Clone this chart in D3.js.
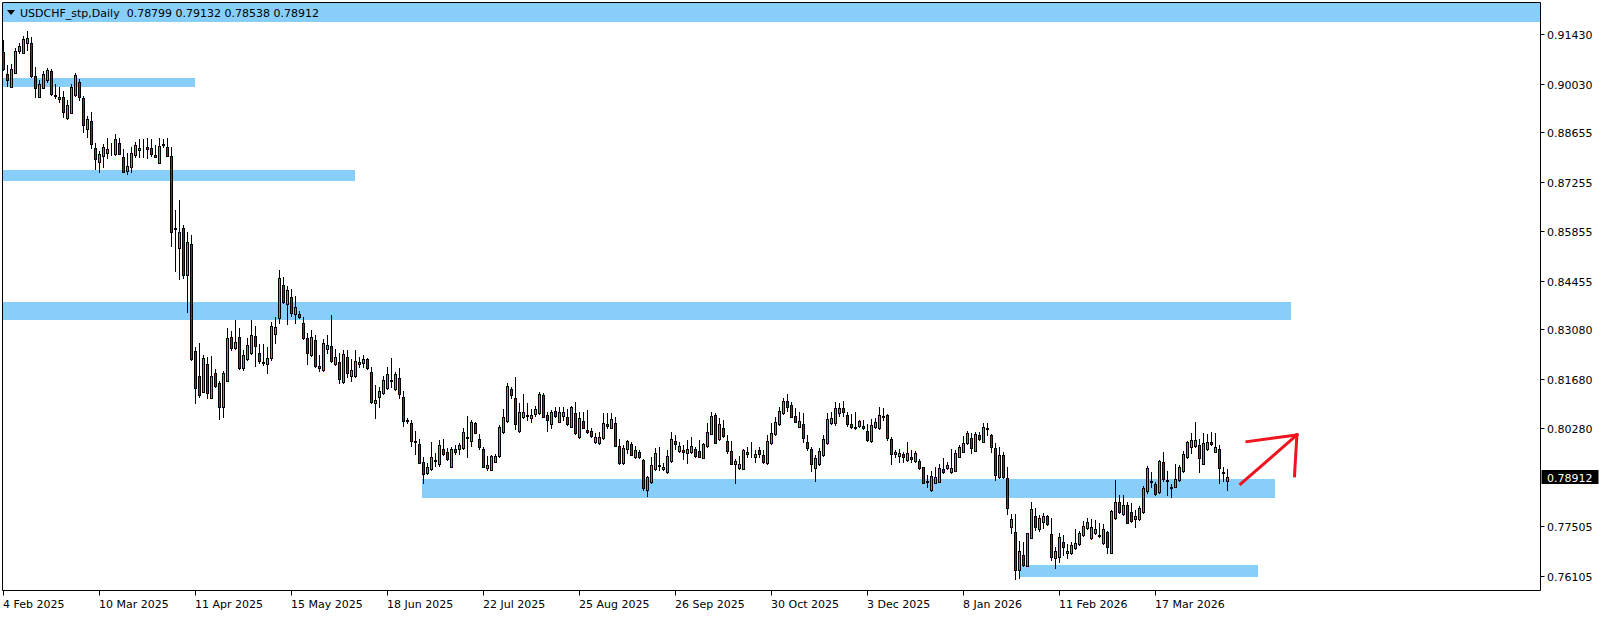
<!DOCTYPE html>
<html>
<head>
<meta charset="utf-8">
<script src="https://cdnjs.cloudflare.com/ajax/libs/d3/7.8.5/d3.min.js"></script>
<style>
  body { margin: 0; background: #fff; }
  svg { display: block; }
  text { font-family: "DejaVu Sans", Tahoma, Verdana, sans-serif; font-size: 11px; }
</style>
</head>
<body>
<svg id="chart" width="1604" height="617"></svg>
<script>
const symbolTitle = 'USDCHF_stp,Daily';

// daily bars, 4 Feb 2025 -> early Apr 2026
const opens = [
  0.9092, 0.9030, 0.8993, 0.9033, 0.9095, 0.9089, 0.9118, 0.9118, 0.9024, 0.8965,
  0.8990, 0.9013, 0.9038, 0.8970, 0.8959, 0.8965, 0.8905, 0.8920, 0.8970, 0.9007,
  0.8962, 0.8874, 0.8897, 0.8821, 0.8781, 0.8798, 0.8806, 0.8809, 0.8804, 0.8835,
  0.8795, 0.8756, 0.8767, 0.8801, 0.8815, 0.8818, 0.8823, 0.8821, 0.8801, 0.8778,
  0.8829, 0.8823, 0.8798, 0.8594, 0.8538, 0.8594, 0.8462, 0.8549, 0.8247, 0.8176,
  0.8131, 0.8210, 0.8114, 0.8185, 0.8156, 0.8088, 0.8162, 0.8286, 0.8255, 0.8286,
  0.8199, 0.8224, 0.8241, 0.8289, 0.8241, 0.8216, 0.8210, 0.8227, 0.8295, 0.8340,
  0.8433, 0.8380, 0.8399, 0.8351, 0.8351, 0.8326, 0.8283, 0.8235, 0.8278, 0.8204,
  0.8193, 0.8252, 0.8261, 0.8210, 0.8216, 0.8159, 0.8230, 0.8176, 0.8176, 0.8210,
  0.8213, 0.8224, 0.8187, 0.8100, 0.8117, 0.8128, 0.8142, 0.8163, 0.8139, 0.8170,
  0.8117, 0.8052, 0.8043, 0.7992, 0.7984, 0.7933, 0.7901, 0.7912, 0.7936, 0.7927,
  0.7969, 0.7961, 0.7919, 0.7969, 0.7969, 0.7972, 0.8003, 0.7992, 0.8043, 0.7998,
  0.7969, 0.7916, 0.7910, 0.7933, 0.7950, 0.8017, 0.8049, 0.8139, 0.8114, 0.8020,
  0.8060, 0.8066, 0.8057, 0.8069, 0.8071, 0.8122, 0.8066, 0.8040, 0.8077, 0.8046,
  0.8063, 0.8060, 0.8032, 0.8071, 0.8003, 0.8049, 0.8023, 0.8020, 0.7989, 0.7986,
  0.8001, 0.8040, 0.8029, 0.8043, 0.7978, 0.7930, 0.7969, 0.7984, 0.7947, 0.7961,
  0.7938, 0.7854, 0.7876, 0.7913, 0.7924, 0.7913, 0.7905, 0.7935, 0.7992, 0.7964,
  0.7966, 0.7958, 0.7961, 0.7969, 0.7964, 0.7944, 0.7978, 0.8012, 0.8066, 0.7998,
  0.8029, 0.7992, 0.7964, 0.7927, 0.7916, 0.7913, 0.7956, 0.7954, 0.7947, 0.7966,
  0.7953, 0.7930, 0.7986, 0.8012, 0.8040, 0.8071, 0.8105, 0.8094, 0.8063, 0.8032,
  0.8040, 0.7989, 0.7969, 0.7916, 0.7927, 0.7953, 0.7986, 0.8043, 0.8043, 0.8071,
  0.8086, 0.8066, 0.8040, 0.8029, 0.8035, 0.8035, 0.8020, 0.7992, 0.8032, 0.8029,
  0.8063, 0.8066, 0.7998, 0.7956, 0.7950, 0.7956, 0.7938, 0.7947, 0.7936, 0.7936,
  0.7919, 0.7879, 0.7854, 0.7874, 0.7876, 0.7913, 0.7916, 0.7905, 0.7907, 0.7947,
  0.7961, 0.7986, 0.8001, 0.7964, 0.8009, 0.7989, 0.8029, 0.8009, 0.7972, 0.7890,
  0.7953, 0.7887, 0.7749, 0.7735, 0.7628, 0.7670, 0.7639, 0.7718, 0.7780, 0.7743,
  0.7763, 0.7780, 0.7729, 0.7661, 0.7664, 0.7707, 0.7676, 0.7676, 0.7690, 0.7701,
  0.7726, 0.7746, 0.7718, 0.7732, 0.7727, 0.7704, 0.7735, 0.7676, 0.7775, 0.7820,
  0.7786, 0.7811, 0.7791, 0.7772, 0.7772, 0.7791, 0.7851, 0.7879, 0.7871, 0.7848,
  0.7933, 0.7882, 0.7859, 0.7862, 0.7882, 0.7907, 0.7947, 0.7975, 0.7978, 0.7981,
  0.7927, 0.7969, 0.7989, 0.7961, 0.7969, 0.7905, 0.78799
];

const highs = [
  0.9126, 0.9055, 0.9058, 0.9103, 0.9118, 0.9137, 0.9152, 0.9135, 0.9050, 0.9013,
  0.9038, 0.9047, 0.9044, 0.9002, 0.8993, 0.8982, 0.8956, 0.9002, 0.9033, 0.9016,
  0.8968, 0.8911, 0.8922, 0.8835, 0.8812, 0.8832, 0.8849, 0.8835, 0.8860, 0.8849,
  0.8818, 0.8806, 0.8823, 0.8838, 0.8846, 0.8846, 0.8849, 0.8846, 0.8829, 0.8849,
  0.8846, 0.8849, 0.8823, 0.8645, 0.8674, 0.8603, 0.8583, 0.8575, 0.8258, 0.8269,
  0.8235, 0.8230, 0.8233, 0.8196, 0.8162, 0.8190, 0.8312, 0.8303, 0.8334, 0.8312,
  0.8250, 0.8283, 0.8334, 0.8317, 0.8266, 0.8266, 0.8258, 0.8329, 0.8343, 0.8476,
  0.8456, 0.8430, 0.8422, 0.8402, 0.8360, 0.8343, 0.8298, 0.8306, 0.8292, 0.8235,
  0.8280, 0.8292, 0.8348, 0.8252, 0.8241, 0.8250, 0.8250, 0.8224, 0.8250, 0.8230,
  0.8235, 0.8227, 0.8202, 0.8150, 0.8145, 0.8176, 0.8202, 0.8227, 0.8187, 0.8199,
  0.8134, 0.8057, 0.8052, 0.8020, 0.7998, 0.7947, 0.7930, 0.7989, 0.7958, 0.7995,
  0.7998, 0.7972, 0.7975, 0.7981, 0.7986, 0.8029, 0.8063, 0.8052, 0.8046, 0.8012,
  0.7975, 0.7950, 0.7953, 0.7956, 0.8037, 0.8083, 0.8156, 0.8145, 0.8173, 0.8100,
  0.8125, 0.8100, 0.8083, 0.8091, 0.8131, 0.8128, 0.8074, 0.8080, 0.8088, 0.8088,
  0.8088, 0.8083, 0.8091, 0.8102, 0.8074, 0.8074, 0.8080, 0.8029, 0.8015, 0.8017,
  0.8071, 0.8071, 0.8071, 0.8060, 0.7998, 0.7981, 0.7995, 0.7989, 0.7978, 0.7966,
  0.7941, 0.7893, 0.7947, 0.7972, 0.7975, 0.7930, 0.7966, 0.8017, 0.8009, 0.7989,
  0.7981, 0.7995, 0.8003, 0.7975, 0.7995, 0.7986, 0.8043, 0.8074, 0.8071, 0.8057,
  0.8052, 0.8009, 0.7992, 0.7941, 0.7950, 0.7969, 0.7975, 0.7989, 0.7966, 0.7975,
  0.7966, 0.8009, 0.8043, 0.8060, 0.8088, 0.8114, 0.8125, 0.8103, 0.8086, 0.8074,
  0.8071, 0.8009, 0.7975, 0.7953, 0.7972, 0.8009, 0.8071, 0.8074, 0.8102, 0.8100,
  0.8105, 0.8074, 0.8069, 0.8074, 0.8052, 0.8052, 0.8040, 0.8054, 0.8057, 0.8088,
  0.8086, 0.8069, 0.8003, 0.7966, 0.7969, 0.7961, 0.7989, 0.7966, 0.7964, 0.7941,
  0.7920, 0.7896, 0.7907, 0.7919, 0.7927, 0.7944, 0.7933, 0.7969, 0.7966, 0.7981,
  0.8006, 0.8020, 0.8015, 0.8017, 0.8017, 0.8043, 0.8043, 0.8012, 0.7986, 0.7975,
  0.7961, 0.7919, 0.7785, 0.7785, 0.7709, 0.7707, 0.7733, 0.7820, 0.7803, 0.7783,
  0.7789, 0.7783, 0.7775, 0.7692, 0.7732, 0.7726, 0.7701, 0.7707, 0.7743, 0.7738,
  0.7766, 0.7775, 0.7772, 0.7769, 0.7760, 0.7758, 0.7738, 0.7797, 0.7882, 0.7840,
  0.7840, 0.7820, 0.7817, 0.7797, 0.7808, 0.7865, 0.7921, 0.7905, 0.7876, 0.7938,
  0.7961, 0.7907, 0.7871, 0.7927, 0.7924, 0.7964, 0.7992, 0.8015, 0.8046, 0.7998,
  0.8015, 0.8012, 0.8017, 0.8015, 0.7981, 0.7919, 0.79132
];

const lows = [
  0.9041, 0.8996, 0.8992, 0.9033, 0.9089, 0.9088, 0.9098, 0.9021, 0.8965, 0.8964,
  0.8989, 0.9007, 0.8970, 0.8962, 0.8951, 0.8908, 0.8904, 0.8919, 0.8969, 0.8956,
  0.8866, 0.8852, 0.8821, 0.8761, 0.8753, 0.8767, 0.8792, 0.8801, 0.8801, 0.8803,
  0.8752, 0.8747, 0.8753, 0.8795, 0.8795, 0.8795, 0.8792, 0.8798, 0.8794, 0.8777,
  0.8823, 0.8797, 0.8544, 0.8473, 0.8450, 0.8453, 0.8357, 0.8221, 0.8100, 0.8117,
  0.8130, 0.8114, 0.8113, 0.8145, 0.8054, 0.8060, 0.8161, 0.8250, 0.8252, 0.8196,
  0.8193, 0.8221, 0.8238, 0.8204, 0.8213, 0.8207, 0.8185, 0.8221, 0.8269, 0.8326,
  0.8382, 0.8323, 0.8346, 0.8326, 0.8340, 0.8281, 0.8210, 0.8233, 0.8202, 0.8190,
  0.8190, 0.8241, 0.8216, 0.8207, 0.8156, 0.8156, 0.8173, 0.8162, 0.8173, 0.8202,
  0.8202, 0.8196, 0.8100, 0.8057, 0.8088, 0.8125, 0.8139, 0.8145, 0.8136, 0.8114,
  0.8035, 0.8043, 0.7978, 0.7956, 0.7930, 0.7874, 0.7898, 0.7909, 0.7921, 0.7921,
  0.7953, 0.7938, 0.7918, 0.7956, 0.7956, 0.7969, 0.7947, 0.7978, 0.8014, 0.7969,
  0.7918, 0.7910, 0.7909, 0.7932, 0.7947, 0.8016, 0.8046, 0.8114, 0.8026, 0.8019,
  0.8057, 0.8052, 0.8046, 0.8063, 0.8069, 0.8059, 0.8020, 0.8029, 0.8060, 0.8045,
  0.8052, 0.8037, 0.8031, 0.8012, 0.8000, 0.8029, 0.8015, 0.8003, 0.7986, 0.7984,
  0.7998, 0.8029, 0.8028, 0.7978, 0.7927, 0.7927, 0.7958, 0.7953, 0.7944, 0.7944,
  0.7854, 0.7837, 0.7874, 0.7910, 0.7910, 0.7910, 0.7902, 0.7934, 0.7969, 0.7961,
  0.7941, 0.7930, 0.7958, 0.7947, 0.7947, 0.7943, 0.7975, 0.8011, 0.7986, 0.7995,
  0.8003, 0.7958, 0.7927, 0.7874, 0.7913, 0.7912, 0.7947, 0.7947, 0.7933, 0.7947,
  0.7930, 0.7927, 0.7985, 0.8009, 0.8037, 0.8069, 0.8077, 0.8060, 0.8046, 0.8031,
  0.7989, 0.7966, 0.7907, 0.7879, 0.7924, 0.7950, 0.7984, 0.8040, 0.8037, 0.8063,
  0.8063, 0.8035, 0.8029, 0.8026, 0.8032, 0.8026, 0.7992, 0.7989, 0.8029, 0.8026,
  0.8052, 0.7995, 0.7927, 0.7947, 0.7933, 0.7933, 0.7936, 0.7933, 0.7933, 0.7913,
  0.7873, 0.7862, 0.7851, 0.7873, 0.7875, 0.7901, 0.7913, 0.7902, 0.7906, 0.7946,
  0.7960, 0.7985, 0.7958, 0.7963, 0.7995, 0.7988, 0.8009, 0.7961, 0.7882, 0.7889,
  0.7889, 0.7785, 0.7732, 0.7603, 0.7604, 0.7639, 0.7638, 0.7717, 0.7741, 0.7738,
  0.7746, 0.7755, 0.7656, 0.7633, 0.7650, 0.7670, 0.7661, 0.7673, 0.7687, 0.7698,
  0.7724, 0.7743, 0.7715, 0.7729, 0.7721, 0.7701, 0.7676, 0.7675, 0.7772, 0.7789,
  0.7783, 0.7760, 0.7763, 0.7749, 0.7769, 0.7790, 0.7845, 0.7862, 0.7839, 0.7845,
  0.7879, 0.7839, 0.7834, 0.7861, 0.7879, 0.7904, 0.7944, 0.7958, 0.7975, 0.7905,
  0.7926, 0.7966, 0.7981, 0.7960, 0.7874, 0.7879, 0.78538
];

const closes = [
  0.9044, 0.9013, 0.9044, 0.9095, 0.9109, 0.9129, 0.9132, 0.9024, 0.8990, 0.9002,
  0.9030, 0.9041, 0.8973, 0.8968, 0.8965, 0.8922, 0.8942, 0.8993, 0.9027, 0.8965,
  0.8886, 0.8903, 0.8832, 0.8790, 0.8804, 0.8823, 0.8818, 0.8808, 0.8846, 0.8804,
  0.8753, 0.8770, 0.8806, 0.8829, 0.8821, 0.8819, 0.8818, 0.8804, 0.8795, 0.8826,
  0.8832, 0.8798, 0.8583, 0.8592, 0.8583, 0.8462, 0.8555, 0.8224, 0.8142, 0.8122,
  0.8227, 0.8128, 0.8176, 0.8148, 0.8088, 0.8185, 0.8283, 0.8255, 0.8272, 0.8199,
  0.8235, 0.8264, 0.8292, 0.8261, 0.8218, 0.8213, 0.8227, 0.8317, 0.8315, 0.8453,
  0.8385, 0.8419, 0.8354, 0.8371, 0.8343, 0.8283, 0.8241, 0.8286, 0.8204, 0.8199,
  0.8269, 0.8264, 0.8218, 0.8230, 0.8167, 0.8238, 0.8185, 0.8193, 0.8218, 0.8216,
  0.8224, 0.8199, 0.8103, 0.8108, 0.8134, 0.8165, 0.8182, 0.8165, 0.8182, 0.8125,
  0.8049, 0.8049, 0.7992, 0.7989, 0.7931, 0.7898, 0.7918, 0.7947, 0.7938, 0.7981,
  0.7956, 0.7941, 0.7969, 0.7961, 0.7981, 0.8017, 0.8001, 0.8046, 0.8015, 0.7975,
  0.7919, 0.7924, 0.7950, 0.7950, 0.8032, 0.8060, 0.8148, 0.8122, 0.8040, 0.8074,
  0.8074, 0.8063, 0.8066, 0.8083, 0.8125, 0.8060, 0.8052, 0.8074, 0.8063, 0.8074,
  0.8074, 0.8040, 0.8088, 0.8015, 0.8057, 0.8030, 0.8017, 0.8006, 0.8003, 0.8003,
  0.8043, 0.8035, 0.8054, 0.7979, 0.7930, 0.7972, 0.7992, 0.7954, 0.7966, 0.7947,
  0.7859, 0.7890, 0.7924, 0.7958, 0.7921, 0.7918, 0.7950, 0.7998, 0.7984, 0.7978,
  0.7961, 0.7969, 0.7978, 0.7950, 0.7948, 0.7984, 0.8017, 0.8063, 0.7987, 0.8040,
  0.8006, 0.7964, 0.7928, 0.7936, 0.7927, 0.7966, 0.7961, 0.7953, 0.7956, 0.7956,
  0.7933, 0.7992, 0.8015, 0.8046, 0.8077, 0.8105, 0.8088, 0.8061, 0.8047, 0.8049,
  0.8001, 0.7972, 0.7927, 0.7944, 0.7964, 0.7998, 0.8054, 0.8057, 0.8086, 0.8086,
  0.8074, 0.8040, 0.8032, 0.8031, 0.8049, 0.8029, 0.7995, 0.8037, 0.8046, 0.8066,
  0.8061, 0.8001, 0.7956, 0.7961, 0.7958, 0.7947, 0.7958, 0.7941, 0.7958, 0.7916,
  0.7874, 0.7876, 0.7893, 0.7890, 0.7916, 0.7905, 0.7924, 0.7916, 0.7958, 0.7975,
  0.7986, 0.8015, 0.7972, 0.8012, 0.7998, 0.8032, 0.8026, 0.7975, 0.7896, 0.7953,
  0.7890, 0.7802, 0.7772, 0.7628, 0.7681, 0.7642, 0.7732, 0.7800, 0.7749, 0.7775,
  0.7780, 0.7758, 0.7664, 0.7681, 0.7721, 0.7692, 0.7681, 0.7698, 0.7704, 0.7732,
  0.7752, 0.7763, 0.7749, 0.7743, 0.7725, 0.7743, 0.7692, 0.7794, 0.7820, 0.7791,
  0.7811, 0.7761, 0.7766, 0.7780, 0.7803, 0.7859, 0.7916, 0.7876, 0.7842, 0.7936,
  0.7885, 0.7879, 0.7862, 0.7885, 0.7919, 0.7956, 0.7989, 0.7995, 0.7995, 0.7944,
  0.7986, 0.7989, 0.7984, 0.7975, 0.7916, 0.7902, 0.78912
];

const priceTicks = [0.91430, 0.90030, 0.88655, 0.87255, 0.85855, 0.84455,
                    0.83080, 0.81680, 0.80280, 0.77505, 0.76105];

// bar index of each date label
const dateTickBars = [0, 24, 48, 72, 96, 120, 144, 168, 192, 216, 240, 264, 288];
const dateTickLabels = ['4 Feb 2025', '10 Mar 2025', '11 Apr 2025', '15 May 2025',
  '18 Jun 2025', '22 Jul 2025', '25 Aug 2025', '26 Sep 2025', '30 Oct 2025',
  '3 Dec 2025', '8 Jan 2026', '11 Feb 2026', '17 Mar 2026'];

// support / resistance boxes: [fromBar, toBar, topPrice, bottomPrice]
const zones = [
  [-2, 47.9, 0.90186, 0.89932],
  [-2, 87.9, 0.87585, 0.87274],
  [-2, 321.9, 0.83853, 0.83343],
  [104.7, 317.9, 0.78848, 0.78311],
  [254.2, 313.7, 0.76416, 0.76077]
];

// hand drawn arrow, [bar, price] pairs
const arrowShaft = [[309.3, 0.78707], [323.35, 0.80093]];
const arrowBarbLeft = [[310.85, 0.79903], [323.35, 0.80093]];
const arrowBarbRight = [[323.35, 0.80093], [322.75, 0.78934]];

const svg = d3.select('#chart');
const W = 1604, H = 617;
const plotLeft = 2.5, plotRight = 1540.5, plotBottom = 590.5, plotTop = 2.5;

const x = d3.scaleLinear().domain([0, 306]).range([3.5, 1227.5]);
const y = d3.scaleLinear().domain([0.76105, 0.91430]).range([576, 34]);

const bars = d3.range(opens.length).map(function (i) {
  return { i: i, o: opens[i], h: highs[i], l: lows[i], c: closes[i] };
});

svg.append('rect').attr('width', W).attr('height', H).attr('fill', '#fff');

svg.append('clipPath').attr('id', 'plot-clip')
  .append('rect')
  .attr('x', plotLeft + 0.5).attr('y', plotTop)
  .attr('width', plotRight - plotLeft - 1).attr('height', plotBottom - plotTop);

const plot = svg.append('g').attr('clip-path', 'url(#plot-clip)');

// boxes
plot.selectAll('.zone').data(zones).enter().append('rect')
  .attr('class', 'zone')
  .attr('x', function (d) { return Math.round(x(d[0])); })
  .attr('width', function (d) { return Math.round(x(d[1])) - Math.round(x(d[0])); })
  .attr('y', function (d) { return Math.round(y(d[2])); })
  .attr('height', function (d) { return Math.round(y(d[3])) - Math.round(y(d[2])); })
  .attr('fill', '#87cefa');

// candles
const candle = plot.selectAll('.candle').data(bars).enter().append('g').attr('class', 'candle');

candle.append('line')
  .attr('x1', function (d) { return x(d.i); })
  .attr('x2', function (d) { return x(d.i); })
  .attr('y1', function (d) { return Math.round(y(d.h)); })
  .attr('y2', function (d) { return Math.round(y(d.l)) + 1; })
  .attr('stroke', '#000').attr('stroke-width', 1);

candle.append('rect')
  .attr('x', function (d) { return x(d.i) - 1; })
  .attr('y', function (d) { return Math.round(y(Math.max(d.o, d.c))) + 0.5; })
  .attr('width', 2)
  .attr('height', function (d) {
    return Math.round(y(Math.min(d.o, d.c))) - Math.round(y(Math.max(d.o, d.c)));
  })
  .attr('fill', function (d) { return d.c >= d.o ? '#00e600' : '#e60000'; })
  .attr('stroke', '#000').attr('stroke-width', 1);

// arrow
const arrowLine = d3.line()
  .x(function (d) { return x(d[0]); })
  .y(function (d) { return y(d[1]); });

[arrowShaft, arrowBarbLeft, arrowBarbRight].forEach(function (seg) {
  plot.append('path')
    .attr('d', arrowLine(seg))
    .attr('fill', 'none')
    .attr('stroke', '#f0141e')
    .attr('stroke-width', 3)
    .attr('stroke-linecap', 'square');
});

// header strip
svg.append('rect')
  .attr('x', 3).attr('y', 3).attr('width', 1537).attr('height', 19)
  .attr('fill', '#87cefa');
svg.append('path').attr('d', 'M7,10 L15,10 L11,15 Z').attr('fill', '#000');
svg.append('text')
  .attr('x', 20).attr('y', 16.5)
  .attr('fill', '#000')
  .attr('xml:space', 'preserve')
  .text(symbolTitle + '  ' + [opens, highs, lows, closes].map(function (a) {
    return a[a.length - 1].toFixed(5);
  }).join(' '));

// frame
svg.append('path')
  .attr('d', 'M' + plotLeft + ',' + plotTop + ' V' + plotBottom + ' H' + plotRight + ' V' + plotTop + ' Z')
  .attr('fill', 'none').attr('stroke', '#000').attr('stroke-width', 1);

// price axis
const yAxis = svg.append('g');
yAxis.selectAll('line').data(priceTicks).enter().append('line')
  .attr('x1', plotRight).attr('x2', plotRight + 4)
  .attr('y1', function (d) { return Math.round(y(d)) + 0.5; })
  .attr('y2', function (d) { return Math.round(y(d)) + 0.5; })
  .attr('stroke', '#000');
yAxis.selectAll('text').data(priceTicks).enter().append('text')
  .attr('x', plotRight + 6.5)
  .attr('y', function (d) { return Math.round(y(d)) + 4.5; })
  .attr('fill', '#000')
  .text(function (d) { return d.toFixed(5); });

// last price marker
const last = closes[closes.length - 1];
svg.append('rect')
  .attr('x', plotRight + 1).attr('y', Math.round(y(last)) - 7)
  .attr('width', 57).attr('height', 14)
  .attr('fill', '#000');
svg.append('text')
  .attr('x', plotRight + 6.5).attr('y', Math.round(y(last)) + 4.5)
  .attr('fill', '#fff')
  .text(last.toFixed(5));

// time axis
const xAxis = svg.append('g');
xAxis.selectAll('line').data(dateTickBars).enter().append('line')
  .attr('x1', function (d) { return x(d); })
  .attr('x2', function (d) { return x(d); })
  .attr('y1', plotBottom).attr('y2', plotBottom + 5)
  .attr('stroke', '#000');
xAxis.selectAll('text').data(dateTickBars).enter().append('text')
  .attr('x', function (d) { return x(d) - 0.5; })
  .attr('y', 608)
  .attr('fill', '#000')
  .text(function (d, k) { return dateTickLabels[k]; });
</script>
</body>
</html>
